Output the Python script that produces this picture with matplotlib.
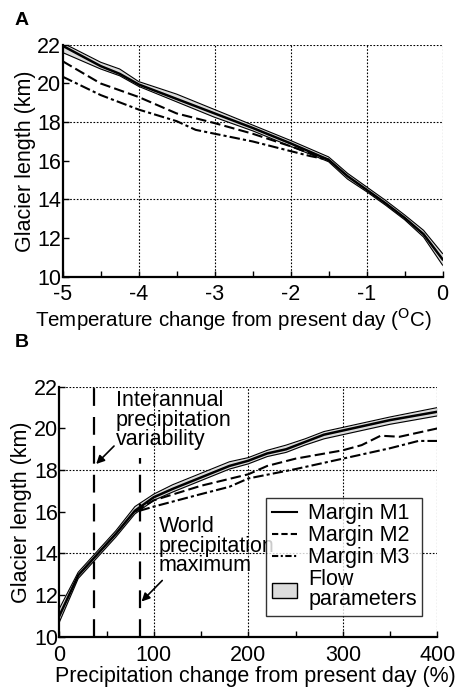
import matplotlib.pyplot as plt
from matplotlib.patches import Patch
from matplotlib.lines import Line2D

plt.rcParams['font.family'] = ['Liberation Sans', 'DejaVu Sans']
plt.rcParams['axes.unicode_minus'] = False

# Panel A: temperature change
temp = [-5, -4.5, -4.25, -4, -3.5, -3, -2.5, -2, -1.5, -1.25, -1, -0.75, -0.5, -0.25, 0]
a_m1 = [21.95, 20.9, 20.5, 19.95, 19.2, 18.45, 17.7, 16.9, 16.05, 15.2, 14.5, 13.8, 13.05, 12.2, 10.9]
a_up = [22.1, 21.1, 20.75, 20.1, 19.45, 18.65, 17.85, 17.05, 16.2, 15.35, 14.65, 13.95, 13.2, 12.4, 11.2]
a_lo = [21.6, 20.75, 20.4, 19.85, 19.05, 18.25, 17.55, 16.75, 15.95, 15.05, 14.4, 13.7, 12.95, 12.05, 10.6]
temp_m2 = [-5, -4.5, -4, -3.5, -3, -2.5, -2, -1.75, -1.5]
a_m2 = [21.15, 20.0, 19.3, 18.45, 17.95, 17.4, 16.75, 16.4, 16.05]
temp_m3 = [-5, -4.5, -4, -3.5, -3.25, -3, -2.5, -2, -1.75, -1.5]
a_m3 = [20.35, 19.4, 18.65, 18.05, 17.6, 17.4, 17.0, 16.5, 16.25, 16.05]

# Panel B: precipitation change
prec = [0, 20, 37, 60, 80, 100, 120, 150, 180, 200, 220, 240, 260, 280, 300, 350, 400]
b_m1 = [11.0, 12.95, 13.8, 14.95, 16.05, 16.7, 17.1, 17.65, 18.2, 18.45, 18.8, 19.0, 19.35, 19.7, 19.9, 20.4, 20.8]
b_up = [11.35, 13.1, 13.95, 15.1, 16.25, 16.85, 17.3, 17.85, 18.4, 18.6, 18.95, 19.2, 19.5, 19.85, 20.05, 20.55, 21.0]
b_lo = [10.7, 12.8, 13.65, 14.8, 15.9, 16.55, 16.95, 17.5, 18.05, 18.3, 18.65, 18.85, 19.2, 19.5, 19.7, 20.2, 20.6]
prec_m2 = [80, 100, 150, 200, 220, 250, 300, 320, 340, 360, 400]
b_m2 = [16.0, 16.55, 17.25, 17.8, 18.2, 18.55, 18.95, 19.2, 19.65, 19.6, 20.0]
prec_m3 = [85, 100, 150, 180, 200, 250, 300, 350, 380, 400]
b_m3 = [16.05, 16.25, 16.85, 17.2, 17.6, 18.05, 18.55, 19.05, 19.4, 19.4]

interannual = 37
world_max = 85

band_col = '#dcdcdc'
fs = 15.5

fig = plt.figure(figsize=(4.56, 6.9), dpi=100)
axA = fig.add_axes([0.1375, 0.599, 0.833, 0.336])
axB = fig.add_axes([0.130, 0.077, 0.829, 0.3625])


def style(ax, xgrid):
    for s in ['top', 'right']:
        ax.spines[s].set_visible(False)
    for s in ['left', 'bottom']:
        ax.spines[s].set_linewidth(1.6)
    ax.set_ylim(10, 22)
    ax.set_yticks([10, 12, 14, 16, 18, 20, 22])
    for y in [14, 18, 22]:
        ax.axhline(y, color='k', ls=(0, (1.5, 1.5)), lw=0.8, zorder=0)
    for x in xgrid:
        ax.axvline(x, color='k', ls=(0, (1.5, 1.5)), lw=0.8, zorder=0)
    ax.tick_params(direction='in', length=4, width=1, labelsize=fs)
    ax.tick_params(axis='y', pad=1)
    ax.tick_params(axis='x', pad=5.5)
    ax.tick_params(which='minor', direction='in', length=4, width=1)


# ---- A ----
axA.fill_between(temp, a_lo, a_up, color=band_col, lw=0)
axA.plot(temp, a_up, color='k', lw=0.8)
axA.plot(temp, a_lo, color='k', lw=0.8)
axA.plot(temp, a_m1, color='k', lw=1.8)
axA.plot(temp_m2, a_m2, color='k', lw=1.5, ls=(0, (5, 2)))
axA.plot(temp_m3, a_m3, color='k', lw=1.5, ls=(0, (5, 1.5, 1.5, 1.5)))
axA.set_xlim(-5, 0)
axA.set_xticks([-5, -4, -3, -2, -1, 0])
axA.set_xticks([-4.5, -3.5, -2.5, -1.5, -0.5], minor=True)
style(axA, [-4, -3, -2, -1, 0])
axA.set_ylabel('Glacier length (km)', fontsize=fs, labelpad=1)
axA.set_xlabel(r'Temperature change from present day ($^{\mathrm{O}}$C)', fontsize=14.8, labelpad=0)
axA.xaxis.label.set_x(0.45)

# ---- B ----
axB.fill_between(prec, b_lo, b_up, color=band_col, lw=0)
axB.plot(prec, b_up, color='k', lw=0.8)
axB.plot(prec, b_lo, color='k', lw=0.8)
axB.plot(prec, b_m1, color='k', lw=1.8)
axB.plot(prec_m2, b_m2, color='k', lw=1.5, ls=(0, (5, 2)))
axB.plot(prec_m3, b_m3, color='k', lw=1.5, ls=(0, (5, 1.5, 1.5, 1.5)))
axB.set_xlim(0, 400)
axB.set_xticks([0, 100, 200, 300, 400])
axB.set_xticks([50, 150, 250, 350], minor=True)
style(axB, [100, 200, 300, 400])
axB.plot([interannual, interannual], [10, 22], color='k', lw=1.6, ls=(0, (8, 5)))
axB.plot([world_max, world_max], [10, 18.6], color='k', lw=1.6, ls=(0, (8, 5)))
axB.set_ylabel('Glacier length (km)', fontsize=fs, labelpad=1)
axB.set_xlabel('Precipitation change from present day (%)', fontsize=fs, labelpad=0)
axB.xaxis.label.set_x(0.52)

axB.text(60, 21.85, 'Interannual\nprecipitation\nvariability', fontsize=fs,
         va='top', ha='left', linespacing=0.92)
axB.annotate('', xy=(interannual, 18.2), xytext=(60, 19.25),
             arrowprops=dict(arrowstyle='-|>', color='k', lw=1.2, mutation_scale=12))
axB.text(105, 15.8, 'World\nprecipitation\nmaximum', fontsize=fs,
         va='top', ha='left', linespacing=0.92)
axB.annotate('', xy=(world_max, 11.6), xytext=(111, 12.8),
             arrowprops=dict(arrowstyle='-|>', color='k', lw=1.2, mutation_scale=12))

handles = [Line2D([], [], color='k', lw=1.5),
           Line2D([], [], color='k', lw=1.5, ls=(0, (3, 1.5))),
           Line2D([], [], color='k', lw=1.5, ls=(0, (3, 1.2, 1, 1.2))),
           Patch(facecolor=band_col, edgecolor='k', lw=1)]
labels = ['Margin M1', 'Margin M2', 'Margin M3', 'Flow\nparameters']
leg = axB.legend(handles, labels, loc='upper right', bbox_to_anchor=(0.96, 0.556),
                 fontsize=fs, frameon=True, fancybox=False, edgecolor='k',
                 handlelength=1.2, handletextpad=0.5, borderpad=0.25,
                 labelspacing=0.05, borderaxespad=0)
leg.get_frame().set_linewidth(1.0)
leg.get_texts()[3].set_linespacing(0.92)

fig.text(0.048, 0.97, 'A', fontsize=14, fontweight='bold', ha='center', va='center')
fig.text(0.048, 0.503, 'B', fontsize=14, fontweight='bold', ha='center', va='center')

fig.savefig('out.png', dpi=100)
